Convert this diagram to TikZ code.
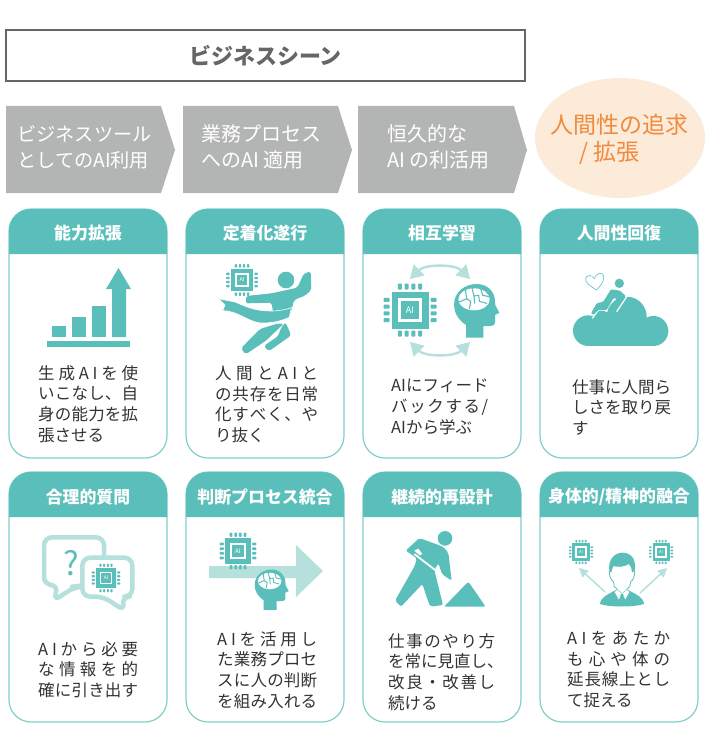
\documentclass[tikz,border=0pt]{standalone}
\usepackage{fontspec}
\setmainfont{Noto Sans CJK JP}
\usetikzlibrary{arrows.meta}
\definecolor{teal}{HTML}{5ABFBA}
\definecolor{tealline}{HTML}{7FCFC9}
\definecolor{tealpale}{HTML}{B5E0DC}
\definecolor{chev}{HTML}{B3B5B4}
\definecolor{titlegray}{HTML}{666666}
\definecolor{peach}{HTML}{FDEBD9}
\definecolor{orangetxt}{HTML}{F08A3C}
\definecolor{bodyink}{HTML}{333333}
\tikzset{
  chevron/.style={fill=chev,draw=none},
  chevtxt/.style={anchor=west,inner sep=0pt,text=white,font=\fontsize{19.2}{24}\selectfont},
  chevtxtb/.style={anchor=west,inner sep=0pt,text=white,font=\fontsize{20}{24}\selectfont},
  hdrtxt/.style={inner sep=0pt,text=white,font=\fontsize{16.9}{20}\selectfont\bfseries},
  bodytxt/.style={anchor=north west,inner sep=0pt,align=left,text=bodyink,font=\fontsize{16.5}{20.7}\selectfont},
  palearrow/.style={draw=tealpale,line width=2.4pt,{Triangle[width=15pt,length=13pt]}-{Triangle[width=15pt,length=13pt]}},
  palesingle/.style={draw=tealpale,line width=1.5pt,-{Triangle[width=9pt,length=9pt]}},
  bubble/.style={draw=tealpale,line width=4.5pt,line join=round,fill=white}
}
\newcommand{\cardbox}[8]{% name x0 y0 x1 y1 ybar title drop
  \draw[tealline,line width=1.2pt,rounded corners=22pt,fill=white] (#2,#3) rectangle (#4,#5);
  \fill[teal] (#2,#6) [rounded corners=22pt] -- (#2,#3) -- (#4,#3) [sharp corners] -- (#4,#6) -- cycle;
  \path (#2,#3) -- (#4,#6) node[midway,hdrtxt,yshift=-#8pt] (#1) {#7};
}
\newlength{\jw}
\makeatletter
\newcommand{\jl}[1]{\hbox to \jw{\def\jsep{\def\jsep{\hfil}}\@tfor\jx:=#1\do{\jsep\jx}}}
\makeatother
\newcommand{\bodyblock}[5]{% name x y width lines
  \setlength{\jw}{#4pt}
  \node[bodytxt] (#1) at (#2,#3) {#5};
}
\newcommand{\chipicon}[3]{%
  \begin{scope}[shift={(#1,#2)},scale=#3,transform shape]
    \foreach \p in {-10.2,-3.4,3.4,10.2}{
      \fill[teal,rounded corners=0.8pt] (\p-2,-26.5) rectangle (\p+2,-20.5);
      \fill[teal,rounded corners=0.8pt] (\p-2,20.5) rectangle (\p+2,26.5);
      \fill[teal,rounded corners=0.8pt] (-26.5,\p-2) rectangle (-20.5,\p+2);
      \fill[teal,rounded corners=0.8pt] (20.5,\p-2) rectangle (26.5,\p+2);
    }
    \fill[teal] (-18.5,-18.5) rectangle (18.5,18.5);
    \fill[white] (-12,-12) rectangle (12,12);
    \fill[teal] (-9,-9) rectangle (9,9);
    \node[inner sep=0pt,text=white,font=\fontsize{9}{10}\selectfont] at (0,0) {AI};
  \end{scope}
}
\newcommand{\headicon}[4]{%
  \begin{scope}[shift={(#1,#2)},scale=#3]
    \fill[teal] (-32,83) -- (-32,45) .. controls (-58,28) and (-68,5) .. (-68,-15)
      .. controls (-68,-55) and (-35,-78) .. (0,-78)
      .. controls (32,-78) and (55,-55) .. (55,-25) -- (56,-14) -- (68,8) -- (55,15) -- (55,38)
      .. controls (55,46) and (48,48) .. (40,48) -- (20,48) -- (20,83) -- cycle;
    \fill[white] (-8,-32) ellipse [x radius=47,y radius=33];
    \begin{scope}[line width=#4pt,teal,line cap=round]
      \draw (-34,-62) -- (-30,-34) -- (-52,-24);
      \draw (-30,-34) -- (-18,-26) -- (-22,-4);
      \draw (-14,-66) -- (-8,-42) -- (6,-44) -- (8,-26);
      \draw (-8,-42) -- (-6,-20);
      \draw (12,-64) -- (18,-44) -- (38,-40);
      \draw (8,-26) -- (30,-20);
    \end{scope}
  \end{scope}
}
\begin{document}
\begin{tikzpicture}[x=1pt,y=-1pt]
\useasboundingbox (0,0) rectangle (710,730);
% title
\node[draw=titlegray,line width=2pt,minimum width=519pt,minimum height=51pt,inner sep=0pt,anchor=north west,
  text=titlegray,font=\fontsize{22}{26}\selectfont\bfseries] (title) at (5,29) {ビジネスシーン};
% chevrons
\fill[chevron] (6,106) -- (161,106) -- (175,150) -- (161,193) -- (6,193) -- cycle;
\fill[chevron] (183,106) -- (338,106) -- (352,150) -- (338,193) -- (183,193) -- cycle;
\fill[chevron] (358,106) -- (514,106) -- (527,150) -- (514,193) -- (358,193) -- cycle;
\node[chevtxt] (c1a) at (17,134) {ビジネスツール};
\node[chevtxt] (c1b) at (17,160) {としてのAI利用};
\node[chevtxtb] (c2a) at (201,134) {業務プロセス};
\node[chevtxtb] (c2b) at (201,160) {へのAI 適用};
\node[chevtxtb] (c3a) at (387,134) {恒久的な};
\node[chevtxtb] (c3b) at (387,160) {AI の利活用};
\fill[peach] (620,138) ellipse [x radius=85,y radius=60];
\node[inner sep=0pt,anchor=west,text=orangetxt,font=\fontsize{23}{26}\selectfont] (h1) at (550,125) {人間性の追求};
\node[inner sep=0pt,anchor=west,text=orangetxt,font=\fontsize{23}{26}\selectfont] (h2) at (579,153) {/ 拡張};
% cards
\cardbox{k1}{9}{209}{167}{458}{254}{能力拡張}{1.5}
\cardbox{k2}{186}{209}{344}{458}{254}{定着化遂行}{1.5}
\cardbox{k3}{363}{209}{521}{458}{254}{相互学習}{1.5}
\cardbox{k4}{540}{209}{698}{458}{254}{人間性回復}{1.5}
\cardbox{k5}{9}{472}{167}{722}{517}{合理的質問}{2.5}
\cardbox{k6}{186}{472}{344}{722}{517}{判断プロセス統合}{2.5}
\cardbox{k7}{363}{472}{521}{722}{517}{継続的再設計}{2.5}
\cardbox{k8}{540}{472}{698}{722}{517}{身体的/精神的融合}{2.5}
% body texts
\bodyblock{b1}{38}{365}{100}{\jl{生成AIを使}\\\jl{いこなし、自}\\\jl{身の能力を拡}\\張させる}
\bodyblock{b2}{215}{366}{103}{\jl{人間とAIと}\\\jl{の共存を日常}\\\jl{化すべく、や}\\り抜く}
\bodyblock{b3}{391}{379}{97}{\jl{AIにフィード}\\\jl{バックする/}\\AIから学ぶ}
\bodyblock{b4}{572}{379}{97}{仕事に人間ら\\しさを取り戻\\す}
\bodyblock{b5}{38}{641}{100}{\jl{AIから必要}\\\jl{な情報を的}\\\jl{確に引き出す}}
\bodyblock{b6}{217}{631}{100}{\jl{AIを活用し}\\\jl{た業務プロセ}\\\jl{スに人の判断}\\\jl{を組み入れる}}
\bodyblock{b7}{388}{633}{107}{\jl{仕事のやり方}\\\jl{を常に見直し、}\\\jl{改良・改善し}\\続ける}
\bodyblock{b8}{567}{631}{103}{\jl{AIをあたか}\\\jl{も心や体の}\\\jl{延長線上とし}\\て捉える}
% icon 1: bars
\fill[teal] (47,341) rectangle (130,347);
\fill[teal] (52,326) rectangle (66,337);
\fill[teal] (72,317) rectangle (86,337);
\fill[teal] (92,306) rectangle (106,337);
\fill[teal] (112,337) -- (112,289) -- (106,289) -- (118.5,268) -- (131,289) -- (126,289) -- (126,337) -- cycle;
% icon 2: runner
\chipicon{242}{280}{0.6}
\begin{scope}[shift={(210,260)},scale=1/3]
  \fill[teal] (228,60) circle (25);
  \fill[teal,rounded corners=2pt] (108,108) -- (185,100) -- (262,83) -- (282,40) -- (302,35) -- (304,90) -- (285,107) -- (252,120) -- (242,160) -- (190,165) -- (185,128) -- (108,130) -- cycle;
  \fill[teal,draw=white,line width=0.6pt] (25,116) -- (75,126) .. controls (105,138) and (130,153) .. (185,153) .. controls (210,153) and (230,148) .. (244,143)
     -- (238,172) .. controls (210,185) and (180,190) .. (150,189) .. controls (110,183) and (85,153) .. (38,152) -- (45,135) -- cycle;
  \fill[teal,rounded corners=2pt] (205,190) -- (150,207) -- (93,265) -- (107,283) -- (168,242) -- (220,192) -- cycle;
  \fill[teal,rounded corners=3pt] (226,186) -- (244,226) -- (176,274) -- (161,258) -- (205,228) -- (212,205) -- cycle;
\end{scope}
% icon 3: mutual
\coordinate (a1l) at (410,279);
\coordinate (a1r) at (470,279);
\coordinate (a2l) at (410,342);
\coordinate (a2r) at (470,342);
\draw[palearrow] (a1l) .. controls (425,264) and (455,264) .. (a1r);
\draw[palearrow] (a2l) .. controls (425,357) and (455,357) .. (a2r);
\chipicon{410}{310}{1}
\headicon{476.7}{310}{0.3333}{1.1}
% icon 4: cloud
\begin{scope}[shift={(355,200)},scale=1/3]
  \draw[teal,line width=0.6pt] (725,270) .. controls (705,258) and (690,248) .. (692,236) .. controls (694,225) and (710,222) .. (718,236) .. controls (722,218) and (746,212) .. (746,232) .. controls (746,248) and (735,258) .. (725,270) -- cycle;
  \fill[teal] (700,392) circle (46);
  \fill[teal] (895,393) circle (45);
  \fill[teal] (815,350) circle (60);
  \fill[teal] (740,360) circle (28);
  \fill[teal] (700,438) rectangle (895,360);
  \fill[teal] (793,250) circle (14);
  \draw[white,line width=1.2pt] (712,355) -- (745,310) -- (770,275) -- (815,290) -- (785,335);
  \fill[teal,rounded corners=1pt] (768,268) -- (795,272) -- (812,288) -- (782,328) -- (770,320) -- (785,295) -- (775,295) -- (755,330) -- (730,330) -- (715,345) -- (708,340) -- (725,310) -- (745,305) -- cycle;
\end{scope}
% icon 5: bubbles
\begin{scope}[shift={(0,465)},scale=1/3]
  \draw[bubble] [rounded corners=8pt] (132,217) -- (312,217) -- (312,335) -- (240,365) -- (225,365) -- (160,408) -- (175,360) -- (132,360) -- cycle;
  \draw[bubble] [rounded corners=8pt] (247,278) -- (397,278) -- (397,395) -- (365,395) -- (375,438) -- (310,395) -- (247,395) -- cycle;
\end{scope}
\node[inner sep=0pt,text=teal,font=\fontsize{33}{35}\selectfont] (qm) at (71,563) {?};
\chipicon{106}{578}{0.54}
% icon 6: process
\fill[tealpale] (209,566) -- (296,566) -- (296,545) -- (323,571) -- (296,597) -- (296,578) -- (209,578) -- cycle;
\chipicon{238}{551}{0.69}
\headicon{271.7}{589}{0.25}{0.9}
% icon 7: worker
\begin{scope}[shift={(385,530)},scale=1/3]
  \fill[teal] (180,25) circle (22);
  \fill[teal,rounded corners=2pt] (62,62) -- (103,24) -- (174,50) -- (190,68) -- (200,152) -- (172,134) -- (160,100) -- (148,120) -- (174,225) -- (135,230) -- (112,162) -- (48,230) -- (30,212) -- (88,110) -- (96,85) -- (80,74) -- cycle;
  \fill[white] (88,62) -- (100,56) -- (112,72) -- (104,76) -- cycle;
  \draw[white,line width=1.8pt] (88,72) -- (235,185);
  \fill[teal,rounded corners=2pt] (177,230) -- (250,155) -- (302,230) -- cycle;
\end{scope}
% icon 8: person
\chipicon{581}{552}{0.46}
\chipicon{661}{552}{0.46}
\coordinate (p8l) at (605,592);
\coordinate (p8r) at (640,593);
\coordinate (t8l) at (579,568);
\coordinate (t8r) at (667,568);
\draw[palesingle] (p8l) -- (t8l);
\draw[palesingle] (p8r) -- (t8r);
\begin{scope}[shift={(560,530)},scale=1/3]
  \fill[teal] (120,222) .. controls (122,200) and (150,190) .. (172,178) -- (186,190) -- (200,178) .. controls (222,190) and (250,200) .. (252,222) .. controls (220,232) and (150,232) .. (120,222) -- cycle;
  \fill[white] (172,180) -- (186,192) -- (176,208) -- (164,186) -- cycle;
  \fill[white] (200,180) -- (186,192) -- (196,208) -- (208,186) -- cycle;
  \fill[teal] (182,192) -- (190,192) -- (192,210) -- (186,218) -- (180,210) -- cycle;
  \draw[teal,line width=0.8pt] (148,122) .. controls (148,140) and (152,150) .. (160,155) -- (163,170) -- (172,178);
  \draw[teal,line width=0.8pt] (224,122) .. controls (224,140) and (220,150) .. (212,155) -- (209,170) -- (200,178);
  \fill[teal] (148,122) .. controls (143,88) and (165,68) .. (187,68) .. controls (215,68) and (230,90) .. (224,122) -- (216,128) .. controls (214,112) and (212,105) .. (206,102) .. controls (192,112) and (170,112) .. (160,108) .. controls (156,115) and (156,122) .. (154,128) -- cycle;
\end{scope}
\end{tikzpicture}
\end{document}
